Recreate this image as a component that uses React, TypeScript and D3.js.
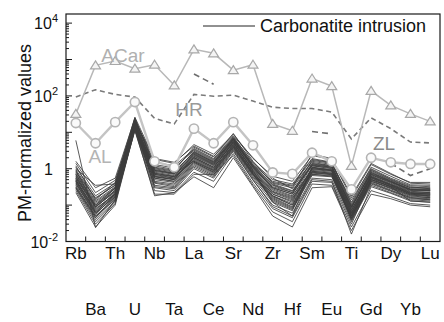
import React from "react";
import * as d3 from "d3";

// element order on the x axis (PM normalised spider diagram)
const elements = ["Rb", "Ba", "Th", "U", "Nb", "Ta", "La", "Ce", "Sr", "Nd", "Zr", "Hf", "Sm", "Eu", "Ti", "Gd", "Dy", "Yb", "Lu"];

// reference fields
const acar = [32, 690, 910, 560, 720, 195, 1900, 1480, 510, 720, 17, 11, 300, 186, 1.2, 138, 55, 32, 20];
const al = [18, 5, 19, 68, 1.6, 1.1, 12.6, 5, 19, 4.4, 0.79, 0.72, 2.75, 1.6, 0.27, 2.0, 1.5, 1.35, 1.35];
const hr = [93, 148, 110, 93, 24, 17, 110, 98, 105, 72, 49, 45, 45, 36, 6.6, 25, 12.6, 5.4, 5.1];
const zl = [null, null, null, null, null, null, 400, 210, null, null, null, null, 10.5, 9.1, null, null, 1.4, 0.65, 1.0];

// carbonatite intrusion samples
const carbonatite = [
  [1.2, 0.14, 0.42, 26, 1.8, 1.4, 4.6, 2.5, 8.8, 1.9, 0.62, 0.45, 2.3, 1.8, 0.16, 1.3, 0.7, 0.42, 0.42],
  [1.6, 0.3, 0.55, 24, 1.1, 0.9, 3.9, 2.1, 9.3, 1.6, 0.4, 0.3, 2.5, 1.9, 0.18, 1.4, 0.74, 0.4, 0.38],
  [0.9, 0.09, 0.3, 22, 1.5, 1.2, 3.4, 1.8, 7.2, 1.5, 0.5, 0.38, 1.9, 1.5, 0.12, 1.1, 0.62, 0.36, 0.35],
  [1.0, 0.35, 0.38, 20, 1.9, 1.5, 4.2, 2.2, 8.0, 2.0, 0.55, 0.28, 1.6, 1.3, 0.14, 1.0, 0.55, 0.34, 0.32],
  [0.75, 0.12, 0.3, 25, 0.95, 0.75, 3.0, 1.6, 6.5, 1.2, 0.35, 0.22, 1.7, 1.4, 0.1, 0.9, 0.5, 0.3, 0.3],
  [1.4, 0.22, 0.48, 18, 0.8, 0.65, 2.6, 1.4, 6.0, 1.05, 0.3, 0.2, 1.3, 1.1, 0.085, 0.8, 0.46, 0.28, 0.27],
  [0.6, 0.1, 0.25, 21, 1.2, 0.95, 3.6, 1.9, 7.6, 1.4, 0.42, 0.33, 1.5, 1.2, 0.09, 0.75, 0.44, 0.26, 0.25],
  [0.55, 0.08, 0.2, 16, 0.7, 0.55, 2.2, 1.2, 5.2, 0.9, 0.12, 0.05, 1.1, 0.95, 0.07, 0.7, 0.4, 0.25, 0.24],
  [0.8, 0.16, 0.35, 19, 0.6, 0.5, 2.0, 1.05, 5.5, 0.85, 0.22, 0.14, 1.0, 0.9, 0.065, 0.65, 0.38, 0.24, 0.22],
  [0.45, 0.06, 0.18, 17, 1.0, 0.8, 2.9, 1.5, 6.8, 1.25, 0.38, 0.25, 1.2, 1.0, 0.075, 0.6, 0.36, 0.22, 0.2],
  [0.7, 0.11, 0.28, 15, 0.55, 0.45, 1.8, 0.95, 4.8, 0.8, 0.2, 0.12, 0.95, 0.85, 0.06, 0.58, 0.34, 0.2, 0.19],
  [0.5, 0.07, 0.22, 14, 0.9, 0.75, 1.6, 0.85, 4.2, 0.72, 0.18, 0.1, 0.85, 0.75, 0.05, 0.52, 0.31, 0.19, 0.18],
  [0.4, 0.05, 0.16, 18, 0.85, 0.7, 2.4, 1.3, 5.8, 1.1, 0.28, 0.18, 0.9, 0.8, 0.055, 0.55, 0.32, 0.21, 0.2],
  [0.35, 0.045, 0.15, 13, 0.42, 0.35, 1.4, 0.75, 3.8, 0.65, 0.15, 0.085, 0.75, 0.7, 0.045, 0.48, 0.29, 0.18, 0.16],
  [0.65, 0.09, 0.24, 16, 0.45, 0.38, 1.5, 0.8, 4.0, 0.7, 0.16, 0.09, 0.8, 0.72, 0.048, 0.45, 0.28, 0.17, 0.16],
  [0.3, 0.04, 0.13, 14, 0.65, 0.55, 2.1, 1.1, 5.0, 0.95, 0.24, 0.16, 0.7, 0.65, 0.042, 0.42, 0.26, 0.16, 0.15],
  [0.28, 0.035, 0.12, 12, 0.35, 0.3, 1.2, 0.65, 3.4, 0.55, 0.12, 0.07, 1.1, 0.9, 0.038, 0.38, 0.24, 0.15, 0.14],
  [0.5, 0.065, 0.2, 15, 0.3, 0.25, 1.0, 0.55, 3.0, 0.48, 0.1, 0.06, 0.55, 0.5, 0.035, 0.35, 0.22, 0.14, 0.13],
  [0.25, 0.03, 0.11, 13, 0.75, 0.6, 1.7, 0.9, 4.5, 0.75, 0.13, 0.075, 0.65, 0.6, 0.04, 0.4, 0.25, 0.16, 0.14],
  [0.22, 0.025, 0.1, 12, 0.25, 0.22, 0.8, 0.45, 2.6, 0.4, 0.08, 0.045, 0.45, 0.42, 0.03, 0.5, 0.32, 0.13, 0.12],
  [0.32, 0.05, 0.14, 11, 0.2, 0.2, 0.7, 0.7, 2.3, 0.35, 0.065, 0.035, 0.38, 0.35, 0.025, 0.25, 0.17, 0.11, 0.1],
  [0.42, 0.055, 0.19, 12, 0.18, 0.22, 0.6, 0.3, 2.0, 0.32, 0.05, 0.025, 0.3, 0.32, 0.02, 0.2, 0.15, 0.1, 0.09],
  [0.6, 0.085, 0.26, 20, 0.9, 0.72, 2.7, 1.45, 6.2, 1.15, 0.3, 0.2, 1.35, 1.15, 0.08, 0.85, 0.48, 0.3, 0.29],
  [0.85, 0.13, 0.32, 23, 1.3, 1.05, 3.2, 1.7, 7.0, 1.3, 0.45, 0.35, 1.8, 1.45, 0.11, 0.95, 0.52, 0.32, 0.28],
  [1.1, 0.18, 0.4, 19, 0.7, 0.6, 2.3, 1.25, 5.6, 1.0, 0.26, 0.17, 1.2, 1.05, 0.072, 0.68, 0.42, 0.26, 0.26],
  [0.38, 0.06, 0.17, 16, 0.6, 0.5, 1.9, 1.0, 4.6, 0.8, 0.2, 0.13, 1.0, 0.88, 0.058, 0.62, 0.37, 0.23, 0.22],
  [0.48, 0.075, 0.21, 14, 0.4, 0.32, 1.3, 0.7, 3.6, 0.6, 0.14, 0.08, 0.7, 0.62, 0.044, 0.45, 0.3, 0.19, 0.17],
  [0.3, 0.045, 0.17, 13, 0.5, 0.42, 1.5, 0.8, 3.9, 0.68, 0.17, 0.1, 0.8, 0.68, 0.05, 0.5, 0.33, 0.2, 0.18],
  [6.0, 0.024, 0.14, 15, 0.55, 0.45, 1.6, 0.9, 4.3, 0.75, 0.18, 0.11, 0.85, 0.75, 0.052, 0.56, 0.35, 0.21, 0.2],
  [0.7, 0.1, 0.3, 17, 1.05, 0.85, 2.8, 1.55, 6.6, 1.2, 0.36, 0.24, 1.4, 1.2, 0.095, 0.78, 0.45, 0.27, 0.26],
  [0.95, 0.15, 0.36, 21, 0.75, 0.62, 2.5, 1.35, 6.4, 1.1, 0.32, 0.22, 1.25, 1.1, 0.088, 0.72, 0.43, 0.27, 0.25],
  [0.55, 0.09, 0.23, 18, 0.62, 0.52, 2.0, 1.1, 5.3, 0.9, 0.23, 0.15, 1.05, 0.92, 0.062, 0.6, 0.36, 0.22, 0.21],
  [0.45, 0.065, 0.2, 14, 0.32, 0.28, 1.1, 0.6, 3.2, 0.5, 0.09, 0.05, 0.5, 0.45, 0.016, 0.32, 0.21, 0.13, 0.12],
];

const yLabelValues = [0.01, 1, 100, 10000];
const yLabelExps = ["-2", "", "2", "4"];

const FONT = "'Liberation Sans', Arial, Helvetica, sans-serif";

const App = () => {
  const left = 66, right = 440, top = 14, bottom = 241.5;

  const x = d3.scalePoint<string>().domain(elements).range([left, right]).padding(0.5);
  const y = d3.scaleLog().domain([0.01, 17800]).range([bottom, top]);
  const step = x.step();

  const line = d3
    .line<number | null>()
    .defined((d) => d != null)
    .x((d, i) => x(elements[i]) as number)
    .y((d) => y(d as number));

  // log ticks: majors every decade, minors 2..9
  const majors = d3.range(-2, 5).map((e) => Math.pow(10, e));
  const minors: number[] = [];
  for (let e = -2; e < 5; e++) {
    for (let m = 2; m <= 9; m++) {
      const v = m * Math.pow(10, e);
      if (v < 17800) minors.push(v);
    }
  }

  return (
    <svg width={444} height={322} style={{ position: "absolute", left: 0, top: 0, background: "#fff" }} fontFamily={FONT}>
      <rect x={0} y={0} width={444} height={322} fill="#fff" />

      {/* carbonatite intrusion bundle */}
      <g fill="none" stroke="#3c3c3c" strokeWidth={0.85} strokeLinejoin="round">
        {carbonatite.map((s, i) => (
          <path key={i} d={line(s) || ""} />
        ))}
      </g>

      {/* HR */}
      <path d={line(hr) || ""} fill="none" stroke="#7a7a7a" strokeWidth={1.6} strokeDasharray="5,3.5" />
      {/* ZL */}
      <path d={line(zl) || ""} fill="none" stroke="#6e6e6e" strokeWidth={1.6} strokeDasharray="6,4" />

      {/* ACar */}
      <path d={line(acar) || ""} fill="none" stroke="#b8b8b8" strokeWidth={1.5} />
      {acar.map((v, i) => {
        const cx = x(elements[i]) as number;
        const cy = y(v);
        return (
          <path
            key={i}
            d={`M${cx},${cy - 4.5}L${cx + 5},${cy + 3.5}L${cx - 5},${cy + 3.5}Z`}
            fill="#f4f4f4"
            stroke="#a8a8a8"
            strokeWidth={1.2}
          />
        );
      })}

      {/* AL */}
      <path d={line(al) || ""} fill="none" stroke="#c4c4c4" strokeWidth={2.4} />
      {al.map((v, i) => (
        <circle key={i} cx={x(elements[i]) as number} cy={y(v)} r={4.6} fill="#fafafa" stroke="#b4b4b4" strokeWidth={1.6} />
      ))}

      {/* field labels */}
      <g fontSize={19}>
        <text x={123} y={62} textAnchor="middle" fill="#b0b0b0">ACar</text>
        <text x={189} y={116} textAnchor="middle" fill="#9a9a9a">HR</text>
        <text x={100} y={163} textAnchor="middle" fill="#b4b4b4">AL</text>
        <text x={384} y={150} textAnchor="middle" fill="#8a8a8a">ZL</text>
      </g>

      {/* frame */}
      <rect x={left} y={top} width={right - left} height={bottom - top} fill="none" stroke="#1a1a1a" strokeWidth={1.2} />

      {/* y ticks */}
      <g stroke="#1a1a1a" strokeWidth={1}>
        {majors.map((v) => (
          <line key={"M" + v} x1={left} x2={left + 6} y1={y(v)} y2={y(v)} />
        ))}
        {minors.map((v) => (
          <line key={"m" + v} x1={left} x2={left + 3} y1={y(v)} y2={y(v)} />
        ))}
      </g>
      {/* x ticks at boundaries */}
      <g stroke="#1a1a1a" strokeWidth={1}>
        {elements.slice(0, -1).map((el) => {
          const tx = (x(el) as number) + step / 2;
          return <line key={el} x1={tx} x2={tx} y1={bottom} y2={bottom - 5} />;
        })}
      </g>

      {/* y tick labels */}
      <g fontSize={16} fill="#111">
        {yLabelValues.map((v, i) =>
          yLabelExps[i] === "" ? (
            <text key={v} x={53} y={y(v) + 6} textAnchor="end">1</text>
          ) : (
            <text key={v} x={58} y={y(v) + 6} textAnchor="end">
              10
              <tspan fontSize={11} dy={-7}>{yLabelExps[i]}</tspan>
            </text>
          )
        )}
      </g>

      {/* x labels, staggered */}
      <g fontSize={17} fill="#111" textAnchor="middle">
        {elements.map((el, i) => (
          <text key={el} x={x(el) as number} y={i % 2 === 0 ? 259 : 315}>{el}</text>
        ))}
      </g>

      {/* y title */}
      <text transform="translate(31,133) rotate(-90)" textAnchor="middle" fontSize={18} fill="#111">
        PM-normalized values
      </text>

      {/* legend */}
      <line x1={203} x2={255} y1={26} y2={26} stroke="#222" strokeWidth={1} />
      <text x={260} y={32} fontSize={18} fill="#111">Carbonatite intrusion</text>
    </svg>
  );
};

export default App;
